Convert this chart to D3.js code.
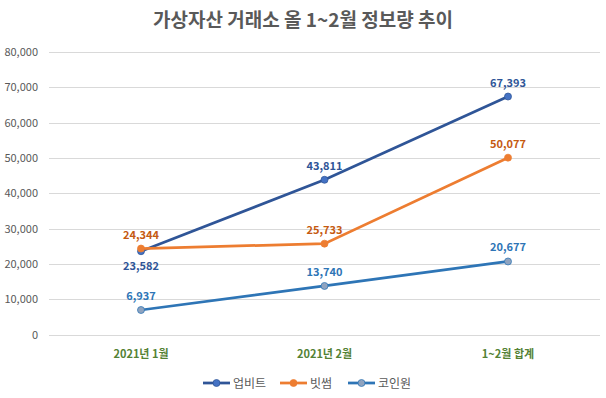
<!DOCTYPE html>
<html>
<head>
<meta charset="utf-8">
<script src="https://cdn.jsdelivr.net/npm/d3@7"></script>
<style>
  body { margin: 0; background: #fff; }
  svg { font-family: "Noto Sans CJK KR", "Noto Sans", sans-serif; }
</style>
</head>
<body>
<svg id="chart" width="606" height="398"></svg>
<script>
var categories = ['2021년 1월', '2021년 2월', '1~2월 합계'];
var seriesNames = ['업비트', '빗썸', '코인원'];
var upbit = [23582, 43811, 67393];
var bithumb = [24344, 25733, 50077];
var coinone = [6937, 13740, 20677];
var yTicks = [0, 10000, 20000, 30000, 40000, 50000, 60000, 70000, 80000];

var series = [
    {name: seriesNames[0], values: upbit, line: '#2F5597', marker: '#4472C4', label: '#2F5597', below: [true, false, false]},
    {name: seriesNames[1], values: bithumb, line: '#ED7D31', marker: '#ED7D31', label: '#C55A11', below: [false, false, false]},
    {name: seriesNames[2], values: coinone, line: '#2E75B6', marker: '#8FA3BF', label: '#2E75B6', below: [false, false, false]}
];

var svg = d3.select('#chart');
var fmt = d3.format(',');

var x = d3.scalePoint().domain(categories).range([141, 508]);
var y = d3.scaleLinear().domain([0, 80000]).range([334.5, 52]);

// title
svg.append('text')
    .attr('x', 303).attr('y', 27)
    .attr('text-anchor', 'middle')
    .attr('font-size', '19px').attr('font-weight', 'bold')
    .attr('fill', '#595959')
    .text('가상자산 거래소 올 1~2월 정보량 추이');

// gridlines
svg.selectAll('.grid').data(yTicks).enter()
    .append('line')
    .attr('x1', 49).attr('x2', 600)
    .attr('y1', function(d) { return Math.round(y(d)) + 0.5; })
    .attr('y2', function(d) { return Math.round(y(d)) + 0.5; })
    .attr('stroke', '#d9d9d9').attr('stroke-width', 1);

svg.selectAll('.ytick').data(yTicks).enter()
    .append('text')
    .attr('x', 38)
    .attr('y', function(d) { return y(d) + 4; })
    .attr('text-anchor', 'end')
    .attr('font-size', '11px')
    .attr('fill', '#595959')
    .text(function(d) { return fmt(d); });

svg.selectAll('.xtick').data(categories).enter()
    .append('text')
    .attr('x', function(d) { return x(d); })
    .attr('y', 358)
    .attr('text-anchor', 'middle')
    .attr('font-size', '11px').attr('font-weight', 'bold')
    .attr('fill', '#548235')
    .text(function(d) { return d; });

var line = d3.line()
    .x(function(d, i) { return x(categories[i]); })
    .y(function(d) { return y(d); });

series.forEach(function(s) {
    svg.append('path')
        .datum(s.values)
        .attr('d', line)
        .attr('fill', 'none')
        .attr('stroke', s.line)
        .attr('stroke-width', 2.75);
});

series.forEach(function(s) {
    svg.selectAll(null).data(s.values).enter()
        .append('circle')
        .attr('cx', function(d, i) { return x(categories[i]); })
        .attr('cy', function(d) { return y(d); })
        .attr('r', 3.5)
        .attr('fill', s.marker)
        .attr('stroke', s.line)
        .attr('stroke-width', 0.75);

    svg.selectAll(null).data(s.values).enter()
        .append('text')
        .attr('x', function(d, i) { return x(categories[i]); })
        .attr('y', function(d, i) { return s.below[i] ? y(d) + 19 : y(d) - 10; })
        .attr('text-anchor', 'middle')
        .attr('font-size', '11px').attr('font-weight', 'bold')
        .attr('fill', s.label)
        .text(function(d) { return fmt(d); });
});

// legend
var legendX = [203, 280, 348];
series.forEach(function(s, i) {
    var g = svg.append('g').attr('transform', 'translate(' + legendX[i] + ',383)');
    g.append('line').attr('x1', 0).attr('x2', 27).attr('y1', 0).attr('y2', 0)
        .attr('stroke', s.line).attr('stroke-width', 2.75);
    g.append('circle').attr('cx', 13.5).attr('cy', 0).attr('r', 3.5)
        .attr('fill', s.marker).attr('stroke', s.line).attr('stroke-width', 0.75);
    g.append('text').attr('x', 30).attr('y', 4.5)
        .attr('font-size', '12px').attr('fill', '#595959')
        .text(s.name);
});
</script>
</body>
</html>
